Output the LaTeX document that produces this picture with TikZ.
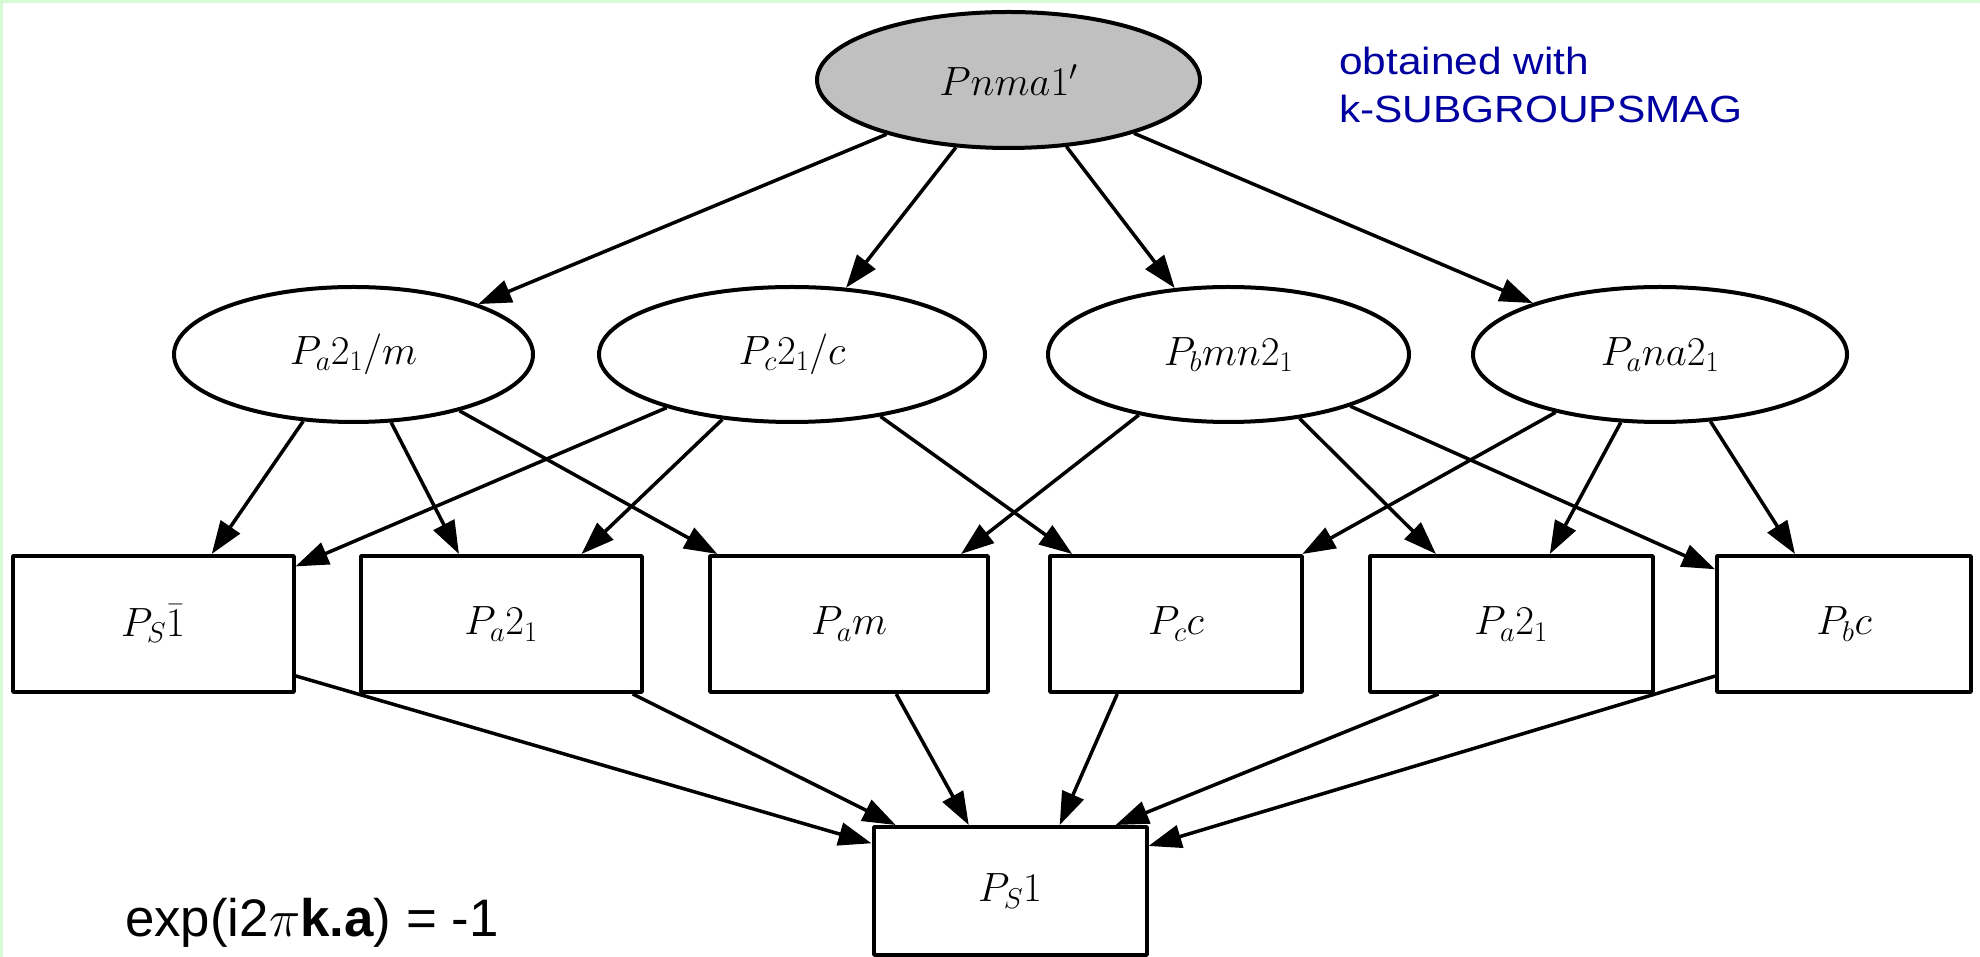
\RequirePackage{fix-cm}
\documentclass[tikz,border=0pt]{standalone}
\usepackage{graphicx}
\usepackage{fontspec}
\newfontfamily\arialfont{Liberation Sans}
\usetikzlibrary{arrows.meta,shapes.geometric}
\definecolor{parentgray}{RGB}{192,192,192}
\definecolor{noteblue}{RGB}{0,0,160}
\definecolor{framegreen}{RGB}{214,250,214}
\newcommand{\wide}[1]{\scalebox{1.12}[1]{#1}}
\tikzset{
  grp/.style={draw,ellipse,line width=4bp,inner sep=0pt,minimum height=135bp,font=\fontsize{41}{46}\selectfont},
  sub/.style={draw,rectangle,line width=4bp,inner sep=0pt,minimum height=136bp,font=\fontsize{41}{46}\selectfont},
  note/.style={anchor=base west,inner sep=0pt,text=noteblue,font=\arialfont\fontsize{38}{46}\selectfont},
}
\begin{document}
\begin{tikzpicture}[>={Triangle[length=33bp,width=23bp]},line join=bevel,]
\useasboundingbox (0bp,0bp) rectangle (1980bp,957bp);
\fill [framegreen] (0bp,954bp) rectangle (1980bp,957bp);
\fill [framegreen] (0bp,0bp) rectangle (3bp,957bp);
%%
\node (node_0) at (1008.5bp,877.0bp) [grp,fill=parentgray,minimum width=383bp,minimum height=136bp] {$Pnma1'$};
%
  \node (node_1) at (353.5bp,602.5bp) [grp,minimum width=359bp] {$P_a2_1/m$};
  \node (node_2) at (792.0bp,602.5bp) [grp,minimum width=386bp] {$P_c2_1/c$};
  \node (node_3) at (1228.5bp,602.5bp) [grp,minimum width=361bp] {$P_bmn2_1$};
  \node (node_4) at (1660.0bp,602.5bp) [grp,minimum width=374bp] {$P_ana2_1$};
%
  \node (node_5) at (153.0bp,333.0bp) [sub,minimum width=281bp] {$P_S\bar{1}$};
  \node (node_6) at (501.0bp,333.0bp) [sub,minimum width=281bp] {$P_a2_1$};
  \node (node_7) at (849.0bp,333.0bp) [sub,minimum width=278bp] {$P_am$};
  \node (node_8) at (1176.0bp,333.0bp) [sub,minimum width=252bp] {$P_cc$};
  \node (node_9) at (1511.0bp,333.0bp) [sub,minimum width=283bp] {$P_a2_1$};
  \node (node_10) at (1844.0bp,333.0bp) [sub,minimum width=254bp] {$P_bc$};
%
  \node (node_11) at (1010.0bp,66.0bp) [sub,minimum width=273bp,minimum height=128bp] {$P_S1$};
%
  \node (note_1) at (1339.0bp,882.0bp) [note] {\wide{obtained with}};
  \node (note_2) at (1339.0bp,834.0bp) [note] {\wide{k-SUBGROUPSMAG}};
  \node (phase) at (125.0bp,21.0bp) [anchor=base west,inner sep=0pt,font=\arialfont\fontsize{53}{60}\selectfont] {exp(i2$\pi$\textbf{k.a}) = -1};
%
  \draw [black,->,line width=3.5bp] (node_0.204) -- (node_1.22);
  \draw [black,->,line width=3.5bp] (node_0.232) -- (node_2.51);
  \draw [black,->,line width=3.5bp] (node_0.311) -- (node_3.129);
  \draw [black,->,line width=3.5bp] (node_0.337) -- (node_4.158);
%
  \draw [black,->,line width=3.5bp] (node_1.233) -- (node_5.50);
  \draw [black,->,line width=3.5bp] (node_1.299) -- (node_6.121);
  \draw [black,->,line width=3.5bp] (node_1.332) -- (node_7.152);
  \draw [black,->,line width=3.5bp] (node_2.203) -- (node_5.22);
  \draw [black,->,line width=3.5bp] (node_2.223) -- (node_6.41);
  \draw [black,->,line width=3.5bp] (node_2.325) -- (node_8.146);
  \draw [black,->,line width=3.5bp] (node_3.214) -- (node_7.32);
  \draw [black,->,line width=3.5bp] (node_3.318) -- (node_9.137);
  \draw [black,->,line width=3.5bp] (node_3.337) -- (node_10.157);
  \draw [black,->,line width=3.5bp] (node_4.209) -- (node_8.29);
  \draw [black,->,line width=3.5bp] (node_4.240) -- (node_9.61);
  \draw [black,->,line width=3.5bp] (node_4.307) -- (node_10.125);
%
  \draw [black,->,line width=3.5bp] (node_5.-20) -- (node_11.161);
  \draw [black,->,line width=3.5bp] (node_6.-28) -- (node_11.150);
  \draw [black,->,line width=3.5bp] (node_7.-56) -- (node_11.122);
  \draw [black,->,line width=3.5bp] (node_8.230) -- (node_11.53);
  \draw [black,->,line width=3.5bp] (node_9.224) -- (node_11.32);
  \draw [black,->,line width=3.5bp] (node_10.202) -- (node_11.18);
%
\end{tikzpicture}
\end{document}
